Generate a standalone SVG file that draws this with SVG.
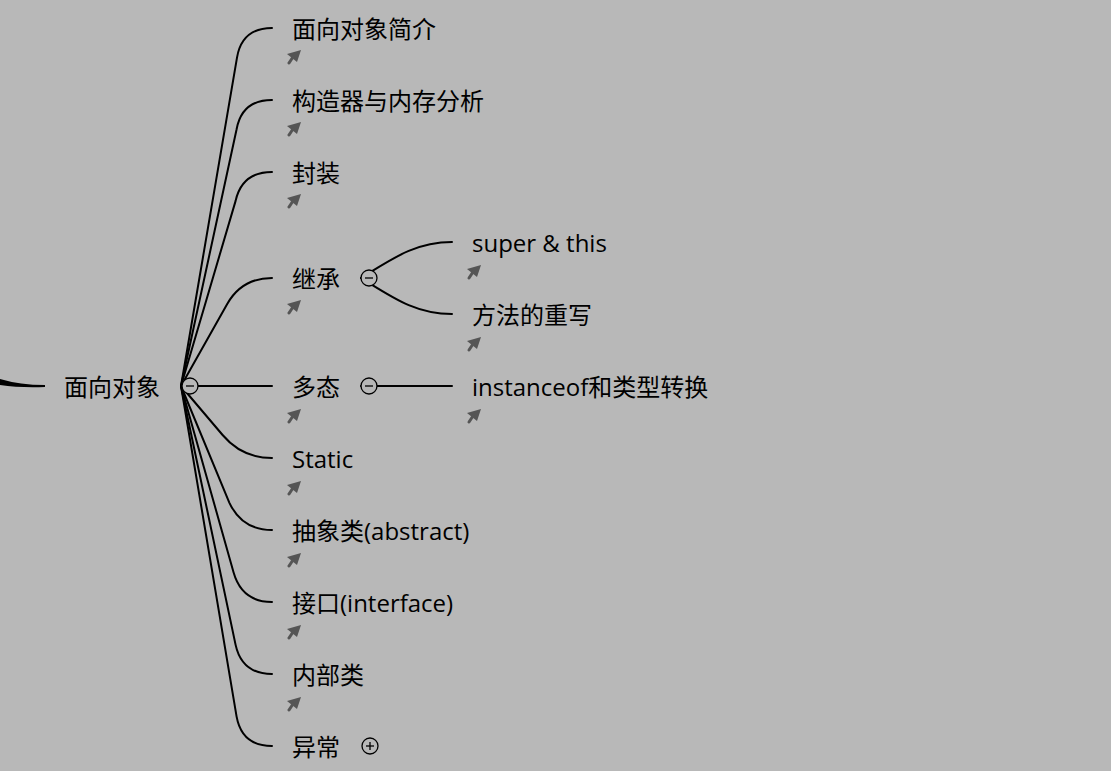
<svg xmlns="http://www.w3.org/2000/svg" xmlns:xlink="http://www.w3.org/1999/xlink" width="1111" height="771" viewBox="0 0 1111 771">
<defs>
<style>
.t{font-family:"Open Sans","Noto Sans CJK SC",sans-serif;font-size:24px;fill:#000}
.c{fill:none;stroke:#000;stroke-width:2;stroke-linecap:round}
.btn{fill:#b8b8b8;stroke:#000;stroke-width:1.3}
.sgn{stroke:#000;stroke-width:1.3}
</style>
<g id="link">
<polygon points="13,0 -1,4 9,12" fill="#555"/>
<line x1="5" y1="7" x2="1" y2="13" stroke="#555" stroke-width="3" stroke-linecap="round"/>
</g>
</defs>
<rect width="1111" height="771" fill="#b8b8b8"/>
<g id="connectors">
<path d="M0,379 Q20,385 45,385 L45,387 Q20,388 0,385 Z" fill="#000"/>
<path class="c" d="M181,386 L237,57.6 Q242,28 272,28"/>
<path class="c" d="M181,386 L236.6,129.3 Q242,100 272,100"/>
<path class="c" d="M181,386 L235.6,200.9 Q242,172 272,172"/>
<path class="c" d="M181,386 L227.2,304 Q242,278 272,278"/>
<path class="c" d="M198,386 L272,386"/>
<path class="c" d="M181,386 L222.6,435 Q242,458 272,458"/>
<path class="c" d="M181,386 L229.3,502.6 Q242,530 272,530"/>
<path class="c" d="M181,386 L233.6,572.6 Q242,602 272,602"/>
<path class="c" d="M181,386 L235.6,644.9 Q242,674 272,674"/>
<path class="c" d="M181,386 L236.6,716.6 Q242,746 272,746"/>
<path class="c" d="M361,278 C392,259 415,242 452,242"/>
<path class="c" d="M361,278 C392,297 415,314 452,314"/>
<path class="c" d="M361,386 L452,386"/>
</g>
<g id="root">
<text class="t" x="64" y="396">面向对象</text>
<circle class="btn" cx="190" cy="386" r="8"/>
<line class="sgn" x1="186" y1="386" x2="194" y2="386"/>
</g>
<g id="n1"><text class="t" x="292" y="38">面向对象简介</text><use xlink:href="#link" x="288" y="50"/></g>
<g id="n2"><text class="t" x="292" y="110">构造器与内存分析</text><use xlink:href="#link" x="288" y="122"/></g>
<g id="n3"><text class="t" x="292" y="182">封装</text><use xlink:href="#link" x="288" y="194"/></g>
<g id="n4"><text class="t" x="292" y="288">继承</text><use xlink:href="#link" x="288" y="300"/>
<circle class="btn" cx="369" cy="278" r="8"/><line class="sgn" x1="365" y1="278" x2="373" y2="278"/></g>
<g id="n4a"><text class="t" x="472" y="252">super &amp; this</text><use xlink:href="#link" x="468" y="265"/></g>
<g id="n4b"><text class="t" x="472" y="324">方法的重写</text><use xlink:href="#link" x="468" y="337"/></g>
<g id="n5"><text class="t" x="292" y="396">多态</text><use xlink:href="#link" x="288" y="409"/>
<circle class="btn" cx="369" cy="386" r="8"/><line class="sgn" x1="365" y1="386" x2="373" y2="386"/></g>
<g id="n5a"><text class="t" x="472" y="396">instanceof和类型转换</text><use xlink:href="#link" x="468" y="409"/></g>
<g id="n6"><text class="t" x="292" y="468">Static</text><use xlink:href="#link" x="288" y="481"/></g>
<g id="n7"><text class="t" x="292" y="540">抽象类(abstract)</text><use xlink:href="#link" x="288" y="553"/></g>
<g id="n8"><text class="t" x="292" y="612">接口(interface)</text><use xlink:href="#link" x="288" y="625"/></g>
<g id="n9"><text class="t" x="292" y="684">内部类</text><use xlink:href="#link" x="288" y="697"/></g>
<g id="n10"><text class="t" x="292" y="756">异常</text>
<circle class="btn" cx="370" cy="746" r="8"/><line class="sgn" x1="366" y1="746" x2="374" y2="746"/><line class="sgn" x1="370" y1="742" x2="370" y2="750"/></g>
</svg>
